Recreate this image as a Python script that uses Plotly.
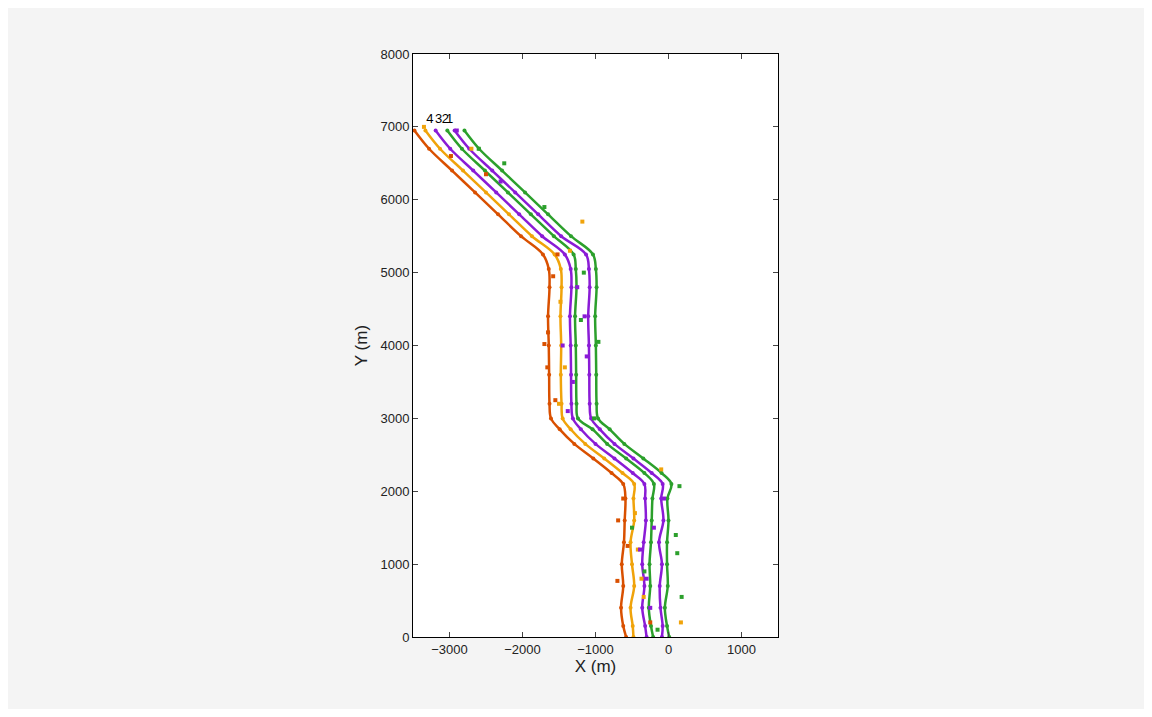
import plotly.graph_objects as go

y_track = [6950, 6700, 6400, 6100, 5800, 5500, 5250, 5050, 4800, 4400, 4000, 3600, 3200,
           3000, 2850, 2650, 2450, 2250, 2100, 1900, 1600, 1300, 1000, 700, 400, 150, 0]

x_red = [-3480, -3280, -2965, -2650, -2335, -2020, -1720, -1640, -1630, -1650, -1640, -1635, -1630,
         -1610, -1490, -1290, -1030, -780, -620, -590, -600, -610, -640, -620, -650, -620, -580]
x_orange = [-3330, -3130, -2815, -2500, -2185, -1870, -1560, -1475, -1465, -1480, -1470, -1475, -1465,
            -1450, -1340, -1140, -880, -630, -470, -480, -470, -520, -500, -470, -520, -490, -480]
x_purple1 = [-3190, -2990, -2675, -2360, -2045, -1730, -1420, -1340, -1330, -1350, -1340, -1335, -1330,
             -1310, -1200, -1000, -740, -490, -330, -320, -310, -340, -360, -330, -360, -320, -300]
x_green1 = [-3030, -2830, -2515, -2200, -1885, -1570, -1300, -1270, -1260, -1280, -1270, -1265, -1260,
            -1240, -1040, -840, -580, -330, -200, -220, -230, -240, -260, -250, -270, -240, -210]
x_purple2 = [-2930, -2730, -2415, -2100, -1785, -1470, -1130, -1090, -1080, -1100, -1090, -1085, -1080,
             -1060, -940, -740, -480, -230, -80, -100, -70, -130, -90, -120, -110, -80, -90]
x_green2 = [-2795, -2595, -2280, -1965, -1650, -1335, -1035, -995, -985, -1005, -995, -990, -985,
            -965, -805, -605, -345, -95, 40, -15, 0, -20, -20, -10, -50, -20, 10]

# loose detections around the tracks
red_px = [-1650, -1700, -1660, -1580, -1520, -690, -700, -620, -560, -2500, -2980, -1550, -250]
red_py = [4180, 4020, 3700, 4950, 5250, 1600, 770, 1900, 1250, 6350, 6600, 3250, 200]
orange_px = [-1480, -1420, -1500, -460, -370, -420, -340, -100, 170, -1350, -2700, -1180, -3350]
orange_py = [4600, 3700, 3200, 1700, 800, 1200, 550, 2300, 200, 5300, 6700, 5700, 7000]
purple_px = [-1250, -1310, -1150, -1120, -390, -200, -300, -250, -60, -1450, -2300, -2900, -1380]
purple_py = [4800, 3500, 4400, 3850, 1200, 1500, 800, 400, 1900, 4000, 6250, 6950, 3100]
green_px = [-1200, -960, -1020, -500, 150, 180, 100, -150, -330, 120, -1160, -2250, -2600, -1700]
green_py = [4350, 4050, 3000, 1500, 2070, 550, 1400, 100, 900, 1150, 5000, 6500, 6700, 5900]

label_x = [-3270, -3150, -3055, -3000]
label_y = [7100, 7100, 7100, 7100]
label_text = ["4", "3", "2", "1"]

c_red, c_orange, c_purple, c_green = "#d95000", "#f0a30a", "#8a1bd6", "#2ca02c"

fig = go.Figure()
for xs, col in [(x_red, c_red), (x_orange, c_orange), (x_purple1, c_purple),
                (x_green1, c_green), (x_purple2, c_purple), (x_green2, c_green)]:
    fig.add_trace(go.Scatter(x=xs, y=y_track, mode="lines+markers", line=dict(color=col, width=2.5, shape="spline"),
                             marker=dict(color=col, size=4), showlegend=False))
for xs, ys, col in [(red_px, red_py, c_red), (orange_px, orange_py, c_orange),
                    (purple_px, purple_py, c_purple), (green_px, green_py, c_green)]:
    fig.add_trace(go.Scatter(x=xs, y=ys, mode="markers", marker=dict(color=col, size=4, symbol="square"),
                             showlegend=False))
fig.add_trace(go.Scatter(x=label_x, y=label_y, mode="text", text=label_text,
                         textfont=dict(size=13, color="black"), showlegend=False))

axis = dict(showline=True, linecolor="black", linewidth=1, mirror="ticks", ticks="inside",
            ticklen=5, showgrid=False, zeroline=False, tickfont=dict(size=13, color="#222"))
fig.update_layout(
    width=1136, height=701, paper_bgcolor="#f4f4f4", plot_bgcolor="white",
    font=dict(family="Liberation Sans, Arial", size=14, color="#222"),
    margin=dict(l=405, r=366, t=46, b=72),
    xaxis=dict(axis, range=[-3500, 1500], tickvals=[-3000, -2000, -1000, 0, 1000],
               title=dict(text="X (m)", standoff=2)),
    yaxis=dict(axis, range=[0, 8000], dtick=1000, title=dict(text="Y (m)", standoff=8)),
)
fig.write_html("out.html")
